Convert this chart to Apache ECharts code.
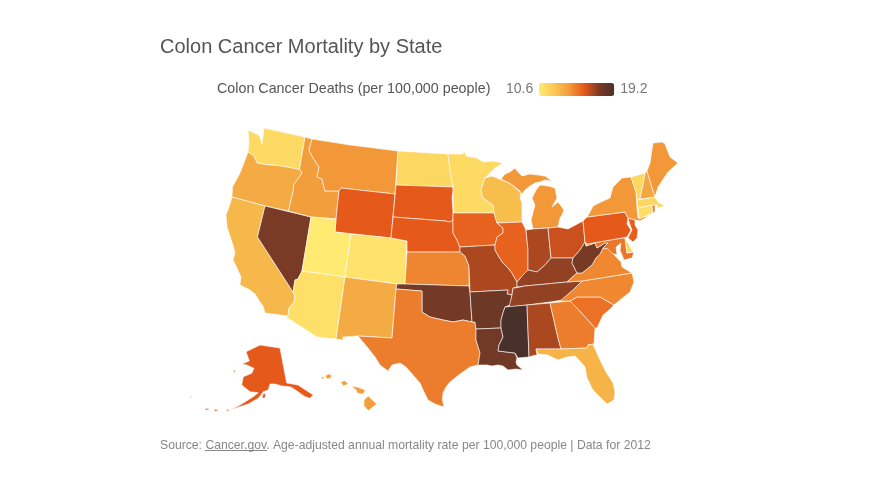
<!DOCTYPE html>
<html><head><meta charset="utf-8">
<style>html,body{margin:0;padding:0;background:#fff}#c{width:870px;height:488px}</style>
<script src="https://cdn.jsdelivr.net/npm/echarts@6/dist/echarts.min.js"></script>
</head><body><div id="c"></div>
<script>
const stateNames = ['Washington','Oregon','California','Nevada','Idaho','Montana','Wyoming','Utah','Arizona','Colorado','New Mexico','North Dakota','South Dakota','Nebraska','Kansas','Oklahoma','Texas','Minnesota','Iowa','Missouri','Arkansas','Louisiana','Wisconsin','Illinois','Michigan','Indiana','Ohio','Kentucky','Tennessee','Mississippi','Alabama','Georgia','Florida','South Carolina','North Carolina','Virginia','West Virginia','Maryland','Delaware','Pennsylvania','New Jersey','New York','Connecticut','Rhode Island','Massachusetts','Vermont','New Hampshire','Maine','Alaska','Hawaii'];
const stateValues = [11.4,13.4,12.9,17.5,13.9,14.1,15.7,10.6,11.1,11.0,13.4,11.5,15.7,15.7,14.6,17.7,14.8,11.4,15.5,16.7,17.9,17.8,12.7,15.5,14.1,16.7,16.2,17.1,17.1,19.2,16.7,14.8,13.1,15.1,14.5,14.5,17.6,15.0,11.6,15.7,15.6,14.1,11.2,15.0,11.5,11.5,13.6,14.1,15.7,13.9];
const legendTicks = ['19.2','10.6'];
const rampColors = ['#FFEA72','#FAC853','#F29A3A','#E5581A','#7A3B25','#4A302B'];

/* State outlines (map geometry only), one string per ring */
const outlines = {
'Washington':['248,130 252,132 259,135 261,140 262,144 263,136 264,128 265,127 305,137 299.5,169.5 287,167 278,165.5 270,165 262,164 257,163 254,156 248,152 249,142'],
'Oregon':['248,152 254,156 257,163 262,164 270,165 278,165.5 287,167 299.5,169.5 302,173 293.5,185 293.5,189 288.5,211 265,206 232,197 232.5,187 240,173 245,160'],
'California':['232,197 265,206 257.5,237 293,292 295,296 294,302 289,308 288,316 265,313 263,306 260,302 255,294 250,290 240,285 241,277 237,268 233,260 235,253 233,245 230,236 227,227 226,215 229,207'],
'Nevada':['265,206 311,217 302,271 298,279 295,280 293,292 257.5,237'],
'Idaho':['305,137 312,139 309,150 313,158 319,167 317,177 322,179 325,191 339,191 336,219 311,217 288.5,211 293.5,189 293.5,185 302,173 299.5,169.5'],
'Montana':['312,139 350,145 398,151 395,194 341,188 339,191 325,191 322,179 317,177 319,167 313,158 309,150'],
'Wyoming':['341,188 395,194 391,238 335,232 336,219 339,191'],
'Utah':['311,217 336,219 335,232 351,234 345,277 302,271'],
'Arizona':['302,271 345,277 336,339 317,337 286,317 288,316 289,308 294,302 295,296 293,292 295,280 298,279'],
'Colorado':['351,234 391,238 407,241 405,284 397,284 345,277'],
'New Mexico':['345,277 397,284 396,289 392,338 358,336 343,337 343,340 336,339'],
'North Dakota':['398,151 448,154 450,170 453,187 396,185'],
'South Dakota':['396,185 453,187 453,192 452,197 453,213 453,220 450,222 445,221 393,217'],
'Nebraska':['393,217 445,221 450,222 453,220 453,233 457,240 460,247 460,252 407,252 407,241 391,238'],
'Kansas':['407,252 460,252 465,256 469,266 469,286 405,284'],
'Oklahoma':['397,284 405,284 469,286 470,292 472,322 463,320 453,322 443,320 430,317 422,312 422,291 396,289'],
'Texas':['396,289 422,291 422,312 430,317 443,320 453,322 463,320 472,322 475,322 476,329 476,340 480,353 478,365 470,367 460,374 450,382 446,387 443,393 442.5,400 444,407 435,404 428,400 424,392 420,383 413,375 406,367 400,363 392,365 388,371 380,365 375,357 368,348 363,342 358,336 392,338'],
'Minnesota':['448,154 463,154 464,150 466,156 477,158 483,162 493,161 503,163 495,168 485,178 481,190 483,198 493,205 494,213 454,213 453,197 453,192 453,187 450,170'],
'Iowa':['454,213 494,213 497,223 503,228 503,233 497,237 495,245 460,247 457,240 453,233 453,220 453,213'],
'Missouri':['460,247 495,245 495,250 499,257 503,263 508,268 512,273 517,282 517,287 513,288 512,295 507,294 508,290 470,292 469,266 465,256 460,252'],
'Arkansas':['470,292 508,290 507,294 512,295 510,305 505,307 503,313 501,320 501,328 476,329 475,322 472,322'],
'Louisiana':['476,329 501,328 503,337 499,345 498,351 515,353 517,358 516,362 517,365 523,370 516,369 508,370 503,366 498,365 492,366 487,365 478,365 480,353 476,340'],
'Wisconsin':['485,178 492,176 502,180 511,184 520,192 521.5,190 520,198 522,203 522,222 497,223 494,213 493,205 483,198 481,190'],
'Illinois':['497,223 522,222 526,230 528,250 528,270 523,275 517,282 512,273 508,268 503,263 499,257 495,250 495,245 497,237 503,233 503,228'],
'Michigan':['533,229 531,220 535,205 532,198 536,190 540,185 548,186 555,188 557,198 552,207 558,202 564,210 562,215 560,218 558,227','501,179 505,174 510,172 515,168 518,172 522,176 530,174 538,175 545,176 552,181 545,180 540,182 535,183 530,186 525,190 522,194 520,191 511,184'],
'Indiana':['526,230 533,229 548,228 551,258 545,265 537,272 528,270 528,250'],
'Ohio':['548,228 558,227 568,229 583,221 585,242 580,250 573,258 565,258 557,258 551,258'],
'Kentucky':['517,282 523,275 528,270 537,272 545,265 551,258 557,258 565,258 573,258 572,263 577,273 567,282 525,286 517,287'],
'Tennessee':['515,288 525,286 567,282 582,281 573,290 562,300 550,302 527,305 509,307 512,295 513,288'],
'Mississippi':['505,307 527,305 529,357 518,358 515,353 498,351 499,345 503,337 501,328 501,320 503,313'],
'Alabama':['527,305 550,303 558,338 561,349 536,349 537,355 532,356 529,357'],
'Georgia':['550,303 570,301 577,308 587,319 595,328 594,344 588,345 587,348 561,349 558,338'],
'Florida':['536,349 561,349 587,348 588,345 593,344 596,351 600,360 606,372 613,383 615,392 614,400 607,404 600,397 593,390 587,378 585,367 580,361 575,356 567,357 558,360 548,355 538,354'],
'South Carolina':['570,301 577,297 600,297 614,305 608,311 603,315 597,328 595,328 587,319 577,308'],
'North Carolina':['582,281 632,273 634,282 630,292 620,300 614,305 600,297 577,297 570,301 560,301 573,290'],
'Virginia':['567,282 577,273 582,273 592,265 596,258 600,254 603,248 610,248 615,256 621,262 622,267 632,273 582,281'],
'West Virginia':['585,242 586,246 595,243 597,248 605,243 608,243 603,248 600,254 596,258 592,265 582,273 577,273 572,263 573,258 580,250'],
'Maryland':['587,244 622,238 625,238 627,253 634,252 632,258 624,260 620,250 621,243 616,247 617,255 612,253 608,249 603,248 608,243 605,243 597,248 595,243 586,246'],
'Delaware':['625,238 628,243 633,252 627,253'],
'Pennsylvania':['583,221 587,217 588,218 625,212 628,218 627,224 631,230 627,237 622,238 587,244 585,242'],
'New Jersey':['628,218 635,220 635,225 638,230 637,238 633,242 628,238 632,230 630,225'],
'New York':['587,217 590,212 593,206 601,202 610,198 613,187 622,178 631,177 636,192 637,208 638,218 649,216 640,221 635,220 628,218 625,212'],
'Connecticut':['638,208 652,205 653,213 639,219'],
'Rhode Island':['652,205 655,205 655,212 653,213'],
'Massachusetts':['637,200 655,197 658,202 665,206 658,208 657,205 652,205 638,208'],
'Vermont':['631,177 645,173 643,185 640,199 637,200 636,192'],
'New Hampshire':['645,173 647,171 655,197 640,199 643,185'],
'Maine':['647,171 650,163 653,143 662,142 665,144 670,157 678,163 668,172 658,187 655,197'],
'Alaska':['260,345 280,348 286.7,383 298,385 313.3,395 310,398.3 305,396.7 298,391.7 291,387 282,386 275,384 270,384 268.3,390 263.3,391.7 258.3,398.3 248.3,404 240,406.7 230,410 240,405 253.3,396.7 258.3,392.7 250,391.7 241.7,385 243.3,376.7 251.7,373.3 254,368.3 246.7,365 241.7,364 249.3,361 246,351.7 253.3,348.3','263,394 266,393.5 265,398 262,398','233.5,369.5 236,371.5 234,372.5','226,410 229.5,409 228,411.5','214,409 219,410.2 215,411.5','205,408 210,409 206,410.5','190,396.5 192,396.5 191,398'],
'Hawaii':['364,400 368.3,396 376.7,404 368.3,410.7 364,406','351,386 358.3,387.3 365.3,390 363.3,394 357.3,393.3 356,390','340.7,381.7 345,380.7 348.3,384 343.3,386','325.3,376 328.3,374 331.7,375 330.7,378.3 326.7,379','320.7,378.3 323.3,376 324,379.3']
};

const features = stateNames.map(name => ({
  type:'Feature', properties:{name},
  geometry:{type:'MultiPolygon', coordinates: outlines[name].map(r => [r.split(' ').map(p => p.split(',').map(Number))])}
}));
echarts.registerMap('usa',{type:'FeatureCollection',features});

let x0=1e9,y0=1e9,x1=-1e9,y1=-1e9;
features.forEach(f=>f.geometry.coordinates.forEach(poly=>poly[0].forEach(([x,y])=>{x0=Math.min(x0,x);x1=Math.max(x1,x);y0=Math.min(y0,y);y1=Math.max(y1,y);})));

const chart = echarts.init(document.getElementById('c'),null,{renderer:'canvas'});
const fam = '"Liberation Sans",Arial,sans-serif';
chart.setOption({
  animation:false,
  backgroundColor:'#fff',
  title:[
    {text:'Colon Cancer Mortality by State',left:160,top:37.5,padding:0,textStyle:{fontFamily:fam,fontSize:20,fontWeight:'normal',color:'#555'}},
    {text:'Colon Cancer Deaths (per 100,000 people)',left:217,top:82,padding:0,textStyle:{fontFamily:fam,fontSize:14.3,fontWeight:'normal',color:'#555'}},
    {text:'Source: Cancer.gov. Age-adjusted annual mortality rate per 100,000 people | Data for 2012',left:160,top:440,padding:0,textStyle:{fontFamily:fam,fontSize:12.2,fontWeight:'normal',color:'#888'}}
  ],
  visualMap:{
    type:'continuous',orient:'horizontal',min:10.6,max:19.2,calculable:false,realtime:false,
    left:506,top:82.5,itemWidth:13,itemHeight:75,padding:0,itemGap:6,
    text:legendTicks,textGap:6,
    textStyle:{fontFamily:fam,fontSize:14,color:'#777'},
    inRange:{color:rampColors},seriesIndex:0
  },
  series:[{
    type:'map',map:'usa',roam:false,silent:true,aspectScale:1,
    projection:{project:p=>p,unproject:p=>p},
    left:x0,top:y0,width:x1-x0,height:y1-y0,
    label:{show:false},emphasis:{disabled:true},select:{disabled:true},
    itemStyle:{borderColor:'#fff',borderWidth:0.6,areaColor:'#eee'},
    data:stateNames.map((name,i)=>({name,value:stateValues[i]}))
  }],
  graphic:[{type:'line',silent:true,shape:{x1:205,y1:450.5,x2:267,y2:450.5},style:{stroke:'#888',lineWidth:1}}]
});
</script></body></html>
